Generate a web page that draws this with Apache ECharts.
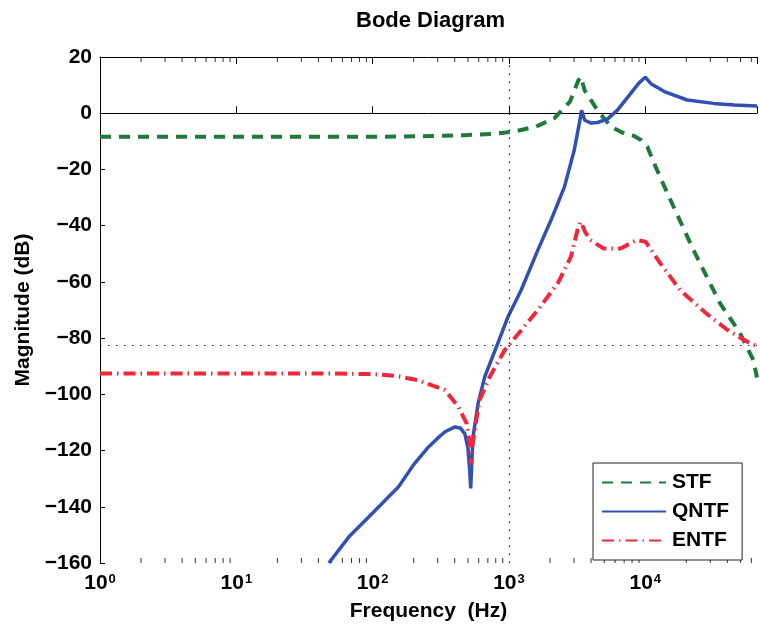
<!DOCTYPE html>
<html>
<head>
<meta charset="utf-8">
<title>Bode Diagram</title>
<script src="https://cdn.jsdelivr.net/npm/echarts@6/dist/echarts.min.js"></script>
<style>
    html, body { margin: 0; padding: 0; background: #fff; }
    #main { width: 760px; height: 630px; }
</style>
</head>
<body>
<div id="main"></div>
<script>
// STF (green dashed)
var stfFreq = [1, 10, 100, 300, 475, 743, 1070, 1570, 2150, 2800, 3240, 3370, 3600, 4470, 5590, 7000, 8300, 9300, 10350, 11900, 14500, 22600, 35200, 49300, 62000, 66000];
var stfDb   = [-8.4, -8.4, -8.4, -8.1, -7.8, -7.4, -6.6, -4.8, -1.8, 4.1, 11.8, 13, 8, 1, -4.8, -7.2, -8.1, -9.5, -11.9, -19, -28.4, -48.7, -67.5, -78, -87.8, -94];

// QNTF (blue solid)
var qntfFreq = [47.7, 67, 100, 155, 200, 256, 300, 340, 401, 440, 474, 500, 515, 524, 532, 545, 594, 664, 809, 984, 1230, 1628, 2036, 2553, 3014, 3300, 3410, 3600, 4000, 4470, 5300, 6250, 7800, 9000, 10000, 11000, 13800, 20300, 31700, 45000, 66000];
var qntfDb   = [-160, -150.7, -142.2, -132.9, -125, -118.8, -115.6, -113.3, -111.6, -112, -114, -119, -127, -133.5, -126, -115.1, -103.2, -93.8, -83.1, -72.4, -62.9, -48.7, -38, -26.2, -13.1, -3, 1, -2.5, -3.5, -3.3, -2, 1.1, 7, 10.8, 12.8, 10.5, 7.7, 4.7, 3.5, 2.9, 2.6];

// ENTF (red dash-dot)
var entfFreq = [1, 10, 50, 100, 150, 217, 339, 425, 489, 515, 528, 540, 576, 610, 722, 929, 1230, 1628, 2280, 2850, 3200, 3370, 3600, 3950, 4930, 6600, 8660, 10050, 12900, 18000, 28000, 41600, 59000, 66000];
var entfDb   = [-92.6, -92.6, -92.6, -92.8, -93.5, -95, -98.5, -104.4, -110.3, -117, -125, -118, -109, -102, -93.8, -84.3, -77.2, -70, -60.5, -51, -41, -38.6, -42, -45.1, -48.1, -48.1, -45.1, -45.7, -53.4, -62.9, -71.2, -77.7, -81.9, -82.8];

// dotted reference lines
var refFreq = 1000;
var refDb = -82.6;

// axes
var freqMin = 1, freqMax = 66000;
var dbMin = -160, dbMax = 20, dbStep = 20;
var minorSteps = [2, 3, 4, 5, 6, 7, 8, 9];

var FONT = "'Liberation Sans', Arial, Helvetica, sans-serif";

function pairs(f, d) {
    return f.map(function (v, i) { return [v, d[i]]; });
}

// minor ticks of the log axis (2..9 in each decade)
var minorBottom = [], minorTop = [];
for (var dec = 1; dec < freqMax; dec *= 10) {
    minorSteps.forEach(function (m) {
        var f = m * dec;
        if (f < freqMax) {
            minorBottom.push([f, dbMin]);
            minorTop.push([f, dbMax]);
        }
    });
}

function decadeLabel(v) {
    var e = Math.log(v) / Math.LN10;
    var r = Math.round(e);
    if (Math.abs(e - r) > 1e-6) return '';
    return '{b|10}{s|' + r + '}';
}

var main = document.getElementById('main');
var myChart = echarts.init(main);

var option = {
    animation: false,
    backgroundColor: '#fff',
    title: {
        text: 'Bode Diagram',
        left: 351,
        top: 5,
        textStyle: { fontFamily: FONT, fontSize: 22, fontWeight: 'bold', color: '#000' }
    },
    legend: {
        data: ['STF', 'QNTF', 'ENTF'],
        orient: 'vertical',
        left: 593,
        top: 463,
        padding: [9, 13, 9, 8],
        itemGap: 8,
        itemWidth: 64,
        itemHeight: 14,
        backgroundColor: '#fff',
        borderColor: '#222',
        borderWidth: 1,
        borderRadius: 0,
        itemStyle: { opacity: 0 },
        lineStyle: { width: 2 },
        textStyle: { fontFamily: FONT, fontSize: 21, fontWeight: 'bold', color: '#000', padding: [0, 0, 0, 1] }
    },
    grid: { left: 100, right: 0, top: 57, bottom: 67, containLabel: false },
    xAxis: [
        {
            type: 'log',
            logBase: 10,
            min: freqMin,
            max: freqMax,
            name: 'Frequency  (Hz)',
            nameLocation: 'middle',
            nameGap: 38,
            nameTextStyle: { fontFamily: FONT, fontSize: 21, fontWeight: 'bold', color: '#000' },
            axisLine: { lineStyle: { color: '#000', width: 1 } },
            axisTick: { inside: true, length: 7, lineStyle: { color: '#000' } },
            splitLine: { show: false },
            axisLabel: {
                margin: 10,
                formatter: decadeLabel,
                rich: {
                    b: { fontFamily: FONT, fontSize: 21, fontWeight: 'bold', color: '#000' },
                    s: { fontFamily: FONT, fontSize: 13, fontWeight: 'bold', color: '#000', verticalAlign: 'top', padding: [0, 0, 8, 1] }
                }
            }
        },
        {
            type: 'log',
            logBase: 10,
            min: freqMin,
            max: freqMax,
            position: 'top',
            axisLine: { lineStyle: { color: '#000', width: 1 } },
            axisTick: { inside: true, length: 7, lineStyle: { color: '#000' } },
            splitLine: { show: false },
            axisLabel: { show: false }
        }
    ],
    yAxis: {
        type: 'value',
        min: dbMin,
        max: dbMax,
        interval: dbStep,
        name: 'Magnitude (dB)',
        nameLocation: 'middle',
        nameGap: 62,
        nameTextStyle: { fontFamily: FONT, fontSize: 21, fontWeight: 'bold', color: '#000' },
        axisLine: { show: true, lineStyle: { color: '#000', width: 1 } },
        axisTick: { show: true, inside: true, length: 5, lineStyle: { color: '#000' } },
        splitLine: { show: false },
        axisLabel: {
            margin: 8,
            fontFamily: FONT,
            fontSize: 21,
            fontWeight: 'bold',
            color: '#000',
            formatter: function (v) { return String(v).replace('-', '\u2212'); }
        }
    },
    series: [
        {
            name: 'minorBottom',
            type: 'scatter',
            silent: true,
            data: minorBottom,
            symbol: 'rect',
            symbolSize: [1, 5],
            symbolOffset: [0, -2.5],
            itemStyle: { color: '#000' },
            z: 1
        },
        {
            name: 'minorTop',
            type: 'scatter',
            silent: true,
            data: minorTop,
            symbol: 'rect',
            symbolSize: [1, 5],
            symbolOffset: [0, 2.5],
            itemStyle: { color: '#000' },
            z: 1
        },
        {
            name: 'STF',
            type: 'line',
            data: pairs(stfFreq, stfDb),
            symbol: 'none',
            color: '#1f7a3a',
            lineStyle: { color: '#1f7a3a', width: 4, type: [11, 8] },
            markLine: {
                silent: true,
                symbol: ['none', 'none'],
                label: { show: false },
                lineStyle: { color: '#222', width: 1.2, type: [1.5, 6.5] },
                data: [{ xAxis: refFreq }, { yAxis: refDb }]
            },
            z: 3
        },
        {
            name: 'QNTF',
            type: 'line',
            data: pairs(qntfFreq, qntfDb),
            symbol: 'none',
            color: '#3050b4',
            lineStyle: { color: '#3050b4', width: 3.5 },
            z: 4
        },
        {
            name: 'ENTF',
            type: 'line',
            data: pairs(entfFreq, entfDb),
            symbol: 'none',
            color: '#f0283c',
            lineStyle: { color: '#f0283c', width: 4, type: [12, 5, 1.5, 5] },
            z: 5
        }
    ]
};

window.onresize = function () {
    myChart.resize();
};
myChart.setOption(option);
</script>
</body>
</html>
